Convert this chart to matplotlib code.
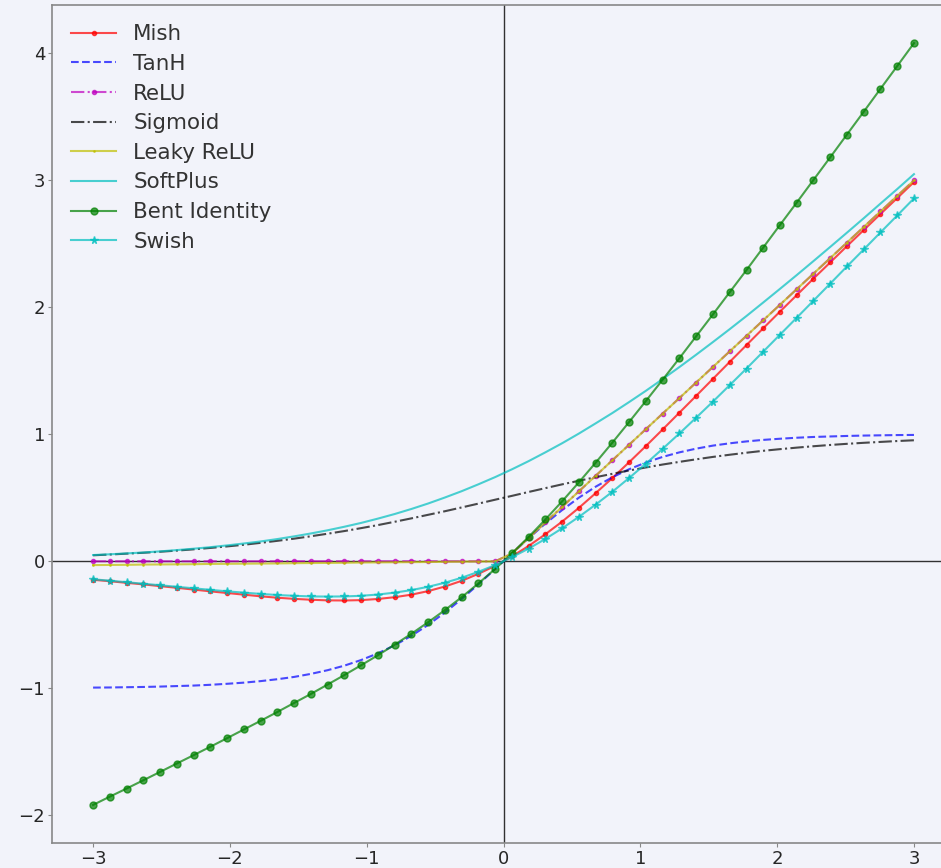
import numpy as np
import matplotlib
matplotlib.use('Agg')
import matplotlib.pyplot as plt


BG = '#f2f3fa'

x = [-3.000, -2.878, -2.755, -2.633, -2.510, -2.388, -2.265, -2.143, -2.020, -1.898,
     -1.776, -1.653, -1.531, -1.408, -1.286, -1.163, -1.041, -0.918, -0.796, -0.673,
     -0.551, -0.429, -0.306, -0.184, -0.061, 0.061, 0.184, 0.306, 0.429, 0.551,
     0.673, 0.796, 0.918, 1.041, 1.163, 1.286, 1.408, 1.531, 1.653, 1.776,
     1.898, 2.020, 2.143, 2.265, 2.388, 2.510, 2.633, 2.755, 2.878, 3.000]

mish = [-0.146, -0.157, -0.170, -0.182, -0.196, -0.209, -0.223, -0.237, -0.250, -0.263,
        -0.276, -0.287, -0.296, -0.303, -0.308, -0.309, -0.306, -0.297, -0.283, -0.263,
        -0.235, -0.199, -0.154, -0.099, -0.036, 0.038, 0.121, 0.213, 0.313, 0.421,
        0.536, 0.656, 0.780, 0.908, 1.038, 1.171, 1.303, 1.437, 1.570, 1.703,
        1.835, 1.966, 2.096, 2.226, 2.354, 2.482, 2.609, 2.735, 2.861, 2.987]

tanh = [-0.995, -0.994, -0.992, -0.990, -0.987, -0.983, -0.979, -0.973, -0.965, -0.956,
        -0.944, -0.929, -0.911, -0.887, -0.858, -0.822, -0.778, -0.725, -0.662, -0.587,
        -0.501, -0.404, -0.297, -0.182, -0.061, 0.061, 0.182, 0.297, 0.404, 0.501,
        0.587, 0.662, 0.725, 0.778, 0.822, 0.858, 0.887, 0.911, 0.929, 0.944,
        0.956, 0.965, 0.973, 0.979, 0.983, 0.987, 0.990, 0.992, 0.994, 0.995]

relu = [0.0, 0.0, 0.0, 0.0, 0.0, 0.0, 0.0, 0.0, 0.0, 0.0,
        0.0, 0.0, 0.0, 0.0, 0.0, 0.0, 0.0, 0.0, 0.0, 0.0,
        0.0, 0.0, 0.0, 0.0, 0.0, 0.061, 0.184, 0.306, 0.429, 0.551,
        0.673, 0.796, 0.918, 1.041, 1.163, 1.286, 1.408, 1.531, 1.653, 1.776,
        1.898, 2.020, 2.143, 2.265, 2.388, 2.510, 2.633, 2.755, 2.878, 3.000]

sigmoid = [0.047, 0.053, 0.060, 0.067, 0.075, 0.084, 0.094, 0.105, 0.117, 0.130,
           0.145, 0.161, 0.178, 0.197, 0.217, 0.238, 0.261, 0.285, 0.311, 0.338,
           0.366, 0.394, 0.424, 0.454, 0.485, 0.515, 0.546, 0.576, 0.606, 0.634,
           0.662, 0.689, 0.715, 0.739, 0.762, 0.783, 0.803, 0.822, 0.839, 0.855,
           0.870, 0.883, 0.895, 0.906, 0.916, 0.925, 0.933, 0.940, 0.947, 0.953]

leaky = [-0.030, -0.029, -0.028, -0.026, -0.025, -0.024, -0.023, -0.021, -0.020, -0.019,
         -0.018, -0.017, -0.015, -0.014, -0.013, -0.012, -0.010, -0.009, -0.008, -0.007,
         -0.006, -0.004, -0.003, -0.002, -0.001, 0.061, 0.184, 0.306, 0.429, 0.551,
         0.673, 0.796, 0.918, 1.041, 1.163, 1.286, 1.408, 1.531, 1.653, 1.776,
         1.898, 2.020, 2.143, 2.265, 2.388, 2.510, 2.633, 2.755, 2.878, 3.000]

softplus = [0.049, 0.055, 0.062, 0.069, 0.078, 0.088, 0.099, 0.111, 0.125, 0.140,
            0.156, 0.175, 0.196, 0.219, 0.244, 0.272, 0.302, 0.336, 0.372, 0.412,
            0.455, 0.502, 0.552, 0.606, 0.663, 0.724, 0.789, 0.858, 0.930, 1.006,
            1.086, 1.168, 1.254, 1.343, 1.435, 1.530, 1.627, 1.727, 1.828, 1.932,
            2.038, 2.145, 2.254, 2.364, 2.476, 2.588, 2.702, 2.817, 2.932, 3.049]

bent = [-1.919, -1.854, -1.790, -1.725, -1.659, -1.593, -1.527, -1.461, -1.393, -1.325,
        -1.257, -1.187, -1.116, -1.045, -0.971, -0.896, -0.819, -0.740, -0.657, -0.571,
        -0.480, -0.385, -0.283, -0.175, -0.060, 0.062, 0.192, 0.329, 0.473, 0.622,
        0.776, 0.935, 1.097, 1.263, 1.430, 1.600, 1.772, 1.945, 2.119, 2.294,
        2.471, 2.648, 2.825, 3.003, 3.182, 3.361, 3.541, 3.721, 3.901, 4.081]

swish = [-0.142, -0.153, -0.165, -0.177, -0.189, -0.201, -0.213, -0.225, -0.237, -0.247,
         -0.257, -0.266, -0.272, -0.277, -0.278, -0.277, -0.272, -0.262, -0.247, -0.227,
         -0.201, -0.169, -0.130, -0.083, -0.030, 0.032, 0.100, 0.176, 0.260, 0.350,
         0.446, 0.548, 0.656, 0.769, 0.886, 1.007, 1.131, 1.258, 1.387, 1.518,
         1.651, 1.784, 1.918, 2.052, 2.187, 2.322, 2.456, 2.590, 2.724, 2.858]


fig = plt.figure(figsize=(9.41, 8.68), dpi=100, facecolor=BG)
ax = fig.add_axes([0.0553, 0.0288, 0.9596, 0.9654], facecolor=BG)

A = 0.7
ax.plot(x, mish, 'r.-', alpha=A, label='Mish')
ax.plot(x, tanh, 'b--', alpha=A, label='TanH')
ax.plot(x, relu, 'm.-.', alpha=A, label='ReLU')
ax.plot(x, sigmoid, 'k-.', alpha=A, label='Sigmoid')
ax.plot(x, leaky, 'y.-', markersize=2, alpha=A, label='Leaky ReLU')
ax.plot(x, softplus, 'c-', alpha=A, label='SoftPlus')
ax.plot(x, bent, 'go-', markersize=5, alpha=A, label='Bent Identity')
ax.plot(x, swish, 'c*-', markersize=5.5, alpha=A, label='Swish')

ax.axhline(0, color='k', lw=1, alpha=0.8, zorder=0)
ax.axvline(0, color='k', lw=1, alpha=0.8, zorder=0)

ax.set_xlim(-3.3, 3.3)
ax.set_ylim(-2.219, 4.381)
ax.set_xticks([-3, -2, -1, 0, 1, 2, 3])
ax.set_yticks([-2, -1, 0, 1, 2, 3, 4])
ax.set_xticklabels(['\u22123', '\u22122', '\u22121', '0', '1', '2', '3'])
ax.set_yticklabels(['\u22122', '\u22121', '0', '1', '2', '3', '4'])
ax.tick_params(labelsize=13, labelcolor='#262626', color='#888888', length=3, pad=2)

for s in ax.spines.values():
    s.set_color('#888888')
    s.set_linewidth(1.2)

leg = ax.legend(loc='upper left', frameon=False, fontsize=15.4,
                labelspacing=0.45, handlelength=2.1, handletextpad=0.8)
for t in leg.get_texts():
    t.set_color('#333333')

fig.savefig('out.png', dpi=100, facecolor=BG)
